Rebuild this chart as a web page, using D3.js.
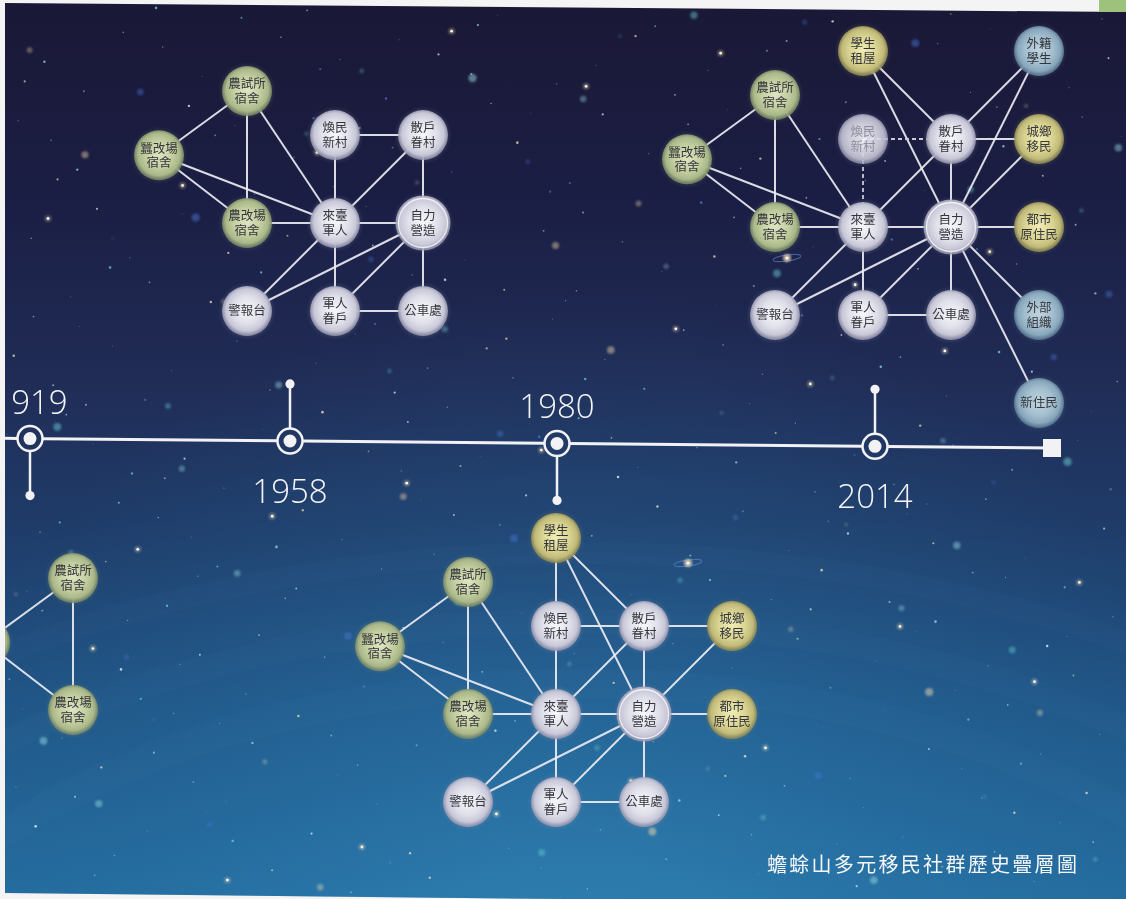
<!DOCTYPE html>
<html><head><meta charset="utf-8">
<script src="https://cdn.jsdelivr.net/npm/d3@7"></script>
<style>html,body{margin:0;padding:0;background:#f4f4f4;overflow:hidden}</style>
</head><body>
<svg id="chart" width="1126" height="899"></svg>
<script>
// ---------------- DATA ----------------
const years = [1919, 1958, 1980, 2014];
const chartTitle = "蟾蜍山多元移民社群歷史疊層圖";

// community nodes: id, label lines, group, grid column / row inside a constellation
const nodeIds    = ["農試所宿舍","蠶改場宿舍","農改場宿舍","煥民新村","散戶眷村","來臺軍人","自力營造","警報台","軍人眷戶","公車處","學生租屋","城鄉移民","都市原住民","外籍學生","外部組織","新住民"];
const nodeLabels = [["農試所","宿舍"],["蠶改場","宿舍"],["農改場","宿舍"],["煥民","新村"],["散戶","眷村"],["來臺","軍人"],["自力","營造"],["警報台"],["軍人","眷戶"],["公車處"],["學生","租屋"],["城鄉","移民"],["都市","原住民"],["外籍","學生"],["外部","組織"],["新住民"]];
const nodeGroups = ["agri","agri","agri","mil","mil","mil","mil","mil","mil","mil","urban","urban","urban","intl","intl","intl"];
const nodeCols   = [-1, -2, -1, 0, 1, 0, 1, -1, 0, 1, 0, 2, 2, 2, 2, 2];
const nodeRows   = [-1.5, -0.77, 0, -1, -1, 0, 0, 1, 1, 1, -2, -1, 0, -2, 1, 2];

const nodes1919 = ["農試所宿舍","蠶改場宿舍","農改場宿舍"];
const nodes1958 = ["農試所宿舍","蠶改場宿舍","農改場宿舍","煥民新村","散戶眷村","來臺軍人","自力營造","警報台","軍人眷戶","公車處"];
const nodes1980 = ["農試所宿舍","蠶改場宿舍","農改場宿舍","煥民新村","散戶眷村","來臺軍人","自力營造","警報台","軍人眷戶","公車處","學生租屋","城鄉移民","都市原住民"];
const nodes2014 = ["農試所宿舍","蠶改場宿舍","農改場宿舍","煥民新村","散戶眷村","來臺軍人","自力營造","警報台","軍人眷戶","公車處","學生租屋","城鄉移民","都市原住民","外籍學生","外部組織","新住民"];
const faded2014 = ["煥民新村"];

const edges1919 = [["農試所宿舍","蠶改場宿舍"],["農試所宿舍","農改場宿舍"],["蠶改場宿舍","農改場宿舍"]];
const edges1958 = [["農試所宿舍","蠶改場宿舍"],["農試所宿舍","農改場宿舍"],["蠶改場宿舍","農改場宿舍"],
  ["農試所宿舍","來臺軍人"],["蠶改場宿舍","來臺軍人"],["農改場宿舍","來臺軍人"],
  ["煥民新村","散戶眷村"],["煥民新村","來臺軍人"],["散戶眷村","來臺軍人"],["散戶眷村","自力營造"],
  ["來臺軍人","自力營造"],["來臺軍人","警報台"],["來臺軍人","軍人眷戶"],
  ["自力營造","警報台"],["自力營造","軍人眷戶"],["自力營造","公車處"],["軍人眷戶","公車處"]];
const edges1980 = [["農試所宿舍","蠶改場宿舍"],["農試所宿舍","農改場宿舍"],["蠶改場宿舍","農改場宿舍"],
  ["農試所宿舍","來臺軍人"],["蠶改場宿舍","來臺軍人"],["農改場宿舍","來臺軍人"],
  ["煥民新村","散戶眷村"],["煥民新村","來臺軍人"],["散戶眷村","來臺軍人"],["散戶眷村","自力營造"],
  ["來臺軍人","自力營造"],["來臺軍人","警報台"],["來臺軍人","軍人眷戶"],
  ["自力營造","警報台"],["自力營造","軍人眷戶"],["自力營造","公車處"],["軍人眷戶","公車處"],
  ["學生租屋","煥民新村"],["學生租屋","散戶眷村"],["學生租屋","自力營造"],
  ["散戶眷村","城鄉移民"],["城鄉移民","自力營造"],["自力營造","都市原住民"]];
const edges2014 = [["農試所宿舍","蠶改場宿舍"],["農試所宿舍","農改場宿舍"],["蠶改場宿舍","農改場宿舍"],
  ["農試所宿舍","來臺軍人"],["蠶改場宿舍","來臺軍人"],["農改場宿舍","來臺軍人"],
  ["散戶眷村","來臺軍人"],["散戶眷村","自力營造"],
  ["來臺軍人","自力營造"],["來臺軍人","警報台"],["來臺軍人","軍人眷戶"],
  ["自力營造","警報台"],["自力營造","軍人眷戶"],["自力營造","公車處"],["軍人眷戶","公車處"],
  ["學生租屋","散戶眷村"],["學生租屋","自力營造"],["外籍學生","散戶眷村"],["外籍學生","自力營造"],
  ["散戶眷村","城鄉移民"],["城鄉移民","自力營造"],["自力營造","都市原住民"],
  ["自力營造","外部組織"],["自力營造","新住民"]];
const dashed2014 = [["煥民新村","散戶眷村"],["煥民新村","來臺軍人"]];

// ---------------- LAYOUT / STYLE ----------------
const W = 1126, H = 899;
const eraNodes  = {1919: nodes1919, 1958: nodes1958, 1980: nodes1980, 2014: nodes2014};
const eraEdges  = {1919: edges1919, 1958: edges1958, 1980: edges1980, 2014: edges2014};
const eraDashed = {1919: [], 1958: [], 1980: [], 2014: dashed2014};
const eraFaded  = {1919: [], 1958: [], 1980: [], 2014: faded2014};
const eraOrigin = {1919: [161, 710], 1958: [335, 223], 1980: [556, 714], 2014: [863, 227]};
const STEP = 88, R = 25;
const hubNode = "自力營造";
const groupColors = {
  agri:  ["#dde5c2", "#c3ce9f", "#a9b789", "#7e8d6b"],
  mil:   ["#f6f6fa", "#e0e0ea", "#c6c6d7", "#9c9cb3"],
  urban: ["#f0ecb4", "#dad492", "#c0b978", "#949058"],
  intl:  ["#c0d4de", "#a3bfcf", "#88a7bb", "#64839c"]
};

const svg = d3.select("#chart");
const defs = svg.append("defs");

// background gradient
const bg = defs.append("linearGradient").attr("id","bgGrad")
  .attr("gradientUnits","userSpaceOnUse").attr("x1",0).attr("y1",0).attr("x2",0).attr("y2",H);
[[0,"#1a1836"],[0.22,"#1b1e44"],[0.42,"#202c56"],[0.58,"#1f3b68"],[0.78,"#1f5485"],[1,"#246c9e"]]
  .forEach(([o,c]) => bg.append("stop").attr("offset",o).attr("stop-color",c));
const glow = defs.append("radialGradient").attr("id","bgGlow")
  .attr("gradientUnits","userSpaceOnUse").attr("cx",580).attr("cy",1010).attr("r",720);
[[0,"#3b95c6",0.55],[0.5,"#2f80b4",0.3],[1,"#2a6fa0",0]]
  .forEach(([o,c,a]) => glow.append("stop").attr("offset",o).attr("stop-color",c).attr("stop-opacity",a));

defs.append("clipPath").attr("id","frame").append("polygon")
  .attr("points",[[5,3],[W,12],[W,905],[5,893]].map(p=>p.join(",")).join(" "));

const blurS = defs.append("filter").attr("id","blurS").attr("x","-50%").attr("y","-50%").attr("width","200%").attr("height","200%");
blurS.append("feGaussianBlur").attr("stdDeviation",1.2);
const blurN = defs.append("filter").attr("id","blurN").attr("x","-20%").attr("y","-20%").attr("width","140%").attr("height","140%");
blurN.append("feGaussianBlur").attr("stdDeviation",0.7);

Object.entries(groupColors).forEach(([g, c]) => {
  const rg = defs.append("radialGradient").attr("id","ng-"+g).attr("cx","50%").attr("cy","48%").attr("r","50%");
  rg.append("stop").attr("offset",0).attr("stop-color",c[0]);
  rg.append("stop").attr("offset",0.55).attr("stop-color",c[1]);
  rg.append("stop").attr("offset",0.85).attr("stop-color",c[2]);
  rg.append("stop").attr("offset",1).attr("stop-color",c[3]).attr("stop-opacity",0.85);
  const hg = defs.append("radialGradient").attr("id","halo-"+g);
  hg.append("stop").attr("offset",0.75).attr("stop-color",c[3]).attr("stop-opacity",0.5);
  hg.append("stop").attr("offset",1).attr("stop-color",c[3]).attr("stop-opacity",0);
});

const root = svg.append("g").attr("clip-path","url(#frame)");
root.append("rect").attr("width",W).attr("height",H).attr("fill","url(#bgGrad)");
root.append("rect").attr("width",W).attr("height",H).attr("fill","url(#bgGlow)");
// faint concentric bands (decoration)
[640, 740, 850].forEach((rr,i) => root.append("ellipse")
  .attr("cx",580).attr("cy",1080).attr("rx",rr*1.15).attr("ry",rr*0.62)
  .attr("fill","none").attr("stroke","#8fd0f0").attr("stroke-opacity",0.018).attr("stroke-width",30 - i*4));

// decorative star field from a Halton (low-discrepancy) sequence
function halton(i, b){ let f = 1, r = 0; while (i > 0){ f /= b; r += f * (i % b); i = Math.floor(i / b); } return r; }
const starPalette = ["#ffffff","#fff0d2","#6fd6d8","#4a78d8","#9fe6e6","#ffe2b0"];
const tiny = d3.range(1, 360).map(i => ({x: 5 + halton(i,2)*1121, y: 3 + halton(i,3)*893, s: halton(i,5), c: starPalette[Math.floor(halton(i,7)*starPalette.length)]}));
root.append("g").selectAll("circle").data(tiny).join("circle")
  .attr("cx",d=>d.x).attr("cy",d=>d.y).attr("r",d=>0.5 + d.s*0.8)
  .attr("fill",d=>d.c).attr("opacity",d=>0.3 + d.s*0.45);
const glowStars = d3.range(400, 480).map(i => ({x: 5 + halton(i,3)*1121, y: 3 + halton(i,2)*893, s: halton(i,5), c: starPalette[2 + Math.floor(halton(i,7)*4)]}));
root.append("g").attr("filter","url(#blurS)").selectAll("circle").data(glowStars).join("circle")
  .attr("cx",d=>d.x).attr("cy",d=>d.y).attr("r",d=>1.8 + d.s*2.4)
  .attr("fill",d=>d.c).attr("opacity",d=>0.2 + d.s*0.3);
const brightStars = d3.range(600, 624).map(i => ({x: 5 + halton(i,5)*1121, y: 3 + halton(i,3)*893, c: starPalette[Math.floor(halton(i,2)*2)]}));
const bs = root.append("g").selectAll("g").data(brightStars).join("g");
bs.append("circle").attr("cx",d=>d.x).attr("cy",d=>d.y).attr("r",3.2).attr("fill","#ffe6b8").attr("opacity",0.35).attr("filter","url(#blurS)");
bs.append("circle").attr("cx",d=>d.x).attr("cy",d=>d.y).attr("r",1.4).attr("fill",d=>d.c);
// two small galaxies
[[787,258],[688,563]].forEach(([gx,gy]) => {
  root.append("ellipse").attr("cx",gx).attr("cy",gy).attr("rx",14).attr("ry",3).attr("transform",`rotate(-8,${gx},${gy})`)
    .attr("fill","none").attr("stroke","#6a8fd8").attr("stroke-opacity",0.55).attr("stroke-width",1);
  root.append("circle").attr("cx",gx).attr("cy",gy).attr("r",4).attr("fill","#ffe7c0").attr("opacity",0.7).attr("filter","url(#blurS)");
  root.append("circle").attr("cx",gx).attr("cy",gy).attr("r",1.6).attr("fill","#fff8ea");
});

// ---------------- TIMELINE ----------------
const tlEnd = 1052;
const x = d3.scaleLinear().domain(years).range([30, 290, 557, 875]);
const yTilt = d3.scaleLinear().domain([0, tlEnd]).range([438.3, 448]);
const RING = 12.5;
const tl = root.append("g");
const segs = [[0, x(years[0]) - RING]];
years.forEach((yr, i) => segs.push([x(yr) + RING, i < years.length - 1 ? x(years[i+1]) - RING : tlEnd]));
tl.selectAll("line.seg").data(segs).join("line").attr("class","seg")
  .attr("x1",d=>d[0]).attr("y1",d=>yTilt(d[0])).attr("x2",d=>d[1]).attr("y2",d=>yTilt(d[1]))
  .attr("stroke","#f2f2f5").attr("stroke-width",3);
tl.append("rect").attr("x",tlEnd-9).attr("y",yTilt(tlEnd)-9).attr("width",18).attr("height",18).attr("fill","#f2f2f5");
const yr = tl.selectAll("g.yr").data(years).join("g").attr("class","yr")
  .attr("transform",d=>`translate(${x(d)},${yTilt(x(d))})`);
yr.append("circle").attr("r",RING).attr("fill","none").attr("stroke","#f2f2f5").attr("stroke-width",2.5);
yr.append("circle").attr("r",6.5).attr("fill","#f2f2f5");
const dir = (d,i) => (i % 2 === 0 ? 1 : -1); // stem goes down for even index
yr.append("line").attr("x1",0).attr("x2",0)
  .attr("y1",(d,i)=>dir(d,i)*RING).attr("y2",(d,i)=>dir(d,i)*57)
  .attr("stroke","#f2f2f5").attr("stroke-width",2.5);
yr.append("circle").attr("cy",(d,i)=>dir(d,i)*57).attr("r",4.6).attr("fill","#f2f2f5");
yr.append("text").attr("text-anchor","middle")
  .attr("y",(d,i)=> dir(d,i) > 0 ? -25 : 62)
  .attr("font-family","'Open Sans','Liberation Sans',sans-serif").attr("font-weight",300)
  .attr("font-size",33).attr("fill","#f4f4f8").text(d=>d);

// ---------------- CONSTELLATIONS ----------------
const byId = new Map(nodeIds.map((id,i)=>[id,{id, label:nodeLabels[i], group:nodeGroups[i], col:nodeCols[i], row:nodeRows[i]}]));
years.forEach(era => {
  const [ox, oy] = eraOrigin[era];
  const sx = d3.scaleLinear().domain([0,1]).range([ox, ox + STEP]);
  const sy = d3.scaleLinear().domain([0,1]).range([oy, oy + STEP]);
  const px = id => sx(byId.get(id).col), py = id => sy(byId.get(id).row);
  const g = root.append("g");
  g.selectAll("line.e").data(eraEdges[era]).join("line").attr("class","e")
    .attr("x1",d=>px(d[0])).attr("y1",d=>py(d[0])).attr("x2",d=>px(d[1])).attr("y2",d=>py(d[1]))
    .attr("stroke","#ececf2").attr("stroke-width",2).attr("stroke-opacity",0.92);
  g.selectAll("line.d").data(eraDashed[era]).join("line").attr("class","d")
    .attr("x1",d=>px(d[0])).attr("y1",d=>py(d[0])).attr("x2",d=>px(d[1])).attr("y2",d=>py(d[1]))
    .attr("stroke","#c9c9d8").attr("stroke-width",1.8).attr("stroke-dasharray","4 3");
  const n = g.selectAll("g.n").data(eraNodes[era].map(id=>byId.get(id))).join("g").attr("class","n")
    .attr("transform",d=>`translate(${px(d.id)},${py(d.id)})`)
    .attr("opacity",d=> eraFaded[era].includes(d.id) ? 0.9 : 1);
  n.append("circle").attr("r",d=> (d.id===hubNode ? 31 : 29)).attr("fill",d=>`url(#halo-${d.group})`).attr("opacity",0.5);
  n.append("circle").attr("r",d=> d.id===hubNode ? 27.5 : R).attr("fill",d=>`url(#ng-${d.group})`).attr("filter","url(#blurN)");
  n.filter(d=>d.id===hubNode).append("circle").attr("r",24.5).attr("fill","none")
    .attr("stroke","#ffffff").attr("stroke-opacity",0.75).attr("stroke-width",1.3);
  n.append("text").attr("text-anchor","middle")
    .attr("font-family","'Noto Sans CJK TC','Noto Sans CJK SC',sans-serif").attr("font-size",12.5)
    .attr("fill",d=> eraFaded[era].includes(d.id) ? "#9a9aab" : "#35353d")
    .selectAll("tspan").data(d=>d.label.map((t,i)=>({t, i, k:d.label.length}))).join("tspan")
    .attr("x",0).attr("y",d=> (d.k===1 ? 0 : (d.i===0 ? -7 : 7.5)) + 4.4).text(d=>d.t);
});

// ---------------- TITLE & FRAME ----------------
root.append("text").attr("x",767).attr("y",872)
  .attr("font-family","'Noto Sans CJK TC','Noto Sans CJK SC',sans-serif").attr("font-size",20)
  .attr("letter-spacing",2.3).attr("fill","#f4f6fa").text(chartTitle);
svg.append("rect").attr("x",1099).attr("y",0).attr("width",27).attr("height",12).attr("fill","#9cc27b");
</script>
</body></html>
